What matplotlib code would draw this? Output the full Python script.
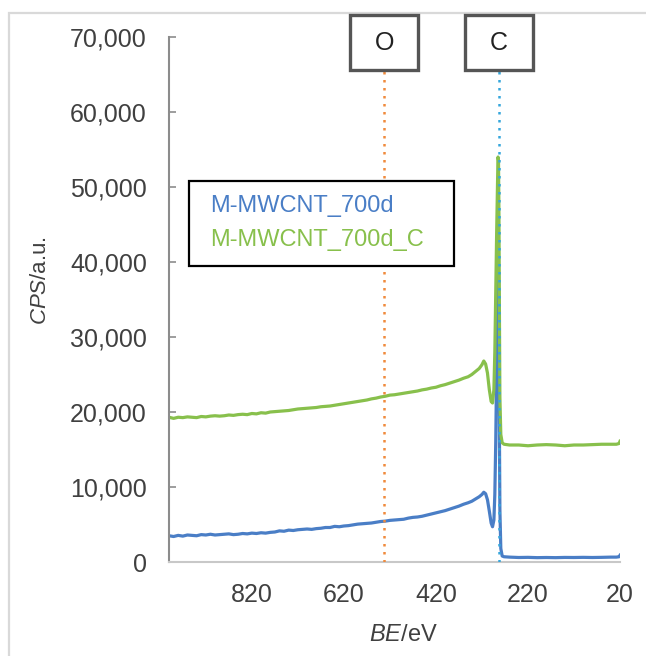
import matplotlib
matplotlib.use('Agg')
import matplotlib.pyplot as plt
from matplotlib.patches import Rectangle
from matplotlib.ticker import MultipleLocator, StrMethodFormatter

plt.rcParams['font.family'] = ['Liberation Sans', 'DejaVu Sans']
plt.rcParams['mathtext.fontset'] = 'custom'
plt.rcParams['mathtext.rm'] = 'Liberation Sans'
plt.rcParams['mathtext.it'] = 'Liberation Sans:italic'

# binding energy grid (eV), shared by both spectra
be = [1000, 990, 980, 970, 960, 950, 940, 930, 920, 910, 900, 890, 880, 870, 860, 850,
      840, 830, 820, 810, 800, 790, 780, 770, 760, 750, 740, 730, 720, 710, 700,
      690, 680, 670, 660, 650, 640, 630, 620, 610, 600, 590, 580, 570, 560, 550,
      540, 530, 520, 510, 500, 490, 480, 470, 460, 450, 440, 430, 420, 410, 400,
      390, 380, 370, 360, 350,
      342, 334, 326, 320, 316, 312, 308, 304, 300, 297, 294, 292, 290, 288, 286, 285,
      284, 283, 282, 281, 279, 276, 272,
      260, 240, 220, 200, 180, 160, 140, 120, 100, 80, 60, 40, 28, 22, 20]

# counts per second
cps_700d = [3500, 3400, 3550, 3450, 3600, 3550, 3500, 3650, 3600, 3700, 3600, 3650, 3700, 3750, 3650, 3700,
            3800, 3750, 3850, 3800, 3900, 3850, 3950, 4000, 4150, 4100, 4250, 4200, 4300, 4350, 4400,
            4350, 4450, 4500, 4600, 4600, 4750, 4700, 4800, 4850, 4950, 5050, 5100, 5150, 5200, 5300,
            5400, 5450, 5550, 5600, 5650, 5700, 5850, 5950, 6000, 6100, 6250, 6400, 6550, 6700, 6850,
            7050, 7250, 7450, 7700, 7900,
            8100, 8400, 8700, 9000, 9300, 9100, 8300, 6800, 5200, 4700, 5600, 9000, 16000, 26000, 35000, 39000,
            38500, 30000, 17000, 7000, 1800, 800, 700,
            650, 600, 620, 580, 600, 580, 610, 600, 620, 600, 620, 650, 650, 700, 900]

cps_700d_c = [19300, 19150, 19300, 19250, 19350, 19300, 19250, 19400, 19350, 19450, 19500, 19450, 19500, 19600, 19550, 19650,
              19700, 19650, 19800, 19750, 19900, 19850, 20000, 20050, 20100, 20150, 20200, 20300, 20400, 20450, 20500,
              20550, 20600, 20700, 20750, 20800, 20900, 21000, 21100, 21200, 21300, 21400, 21500, 21600, 21750, 21850,
              22000, 22100, 22250, 22300, 22400, 22500, 22600, 22700, 22800, 22950, 23050, 23200, 23300, 23500, 23650,
              23850, 24050, 24250, 24500, 24700,
              25000, 25400, 25800, 26300, 26800, 26400, 25200, 23000, 21400, 21200, 23000, 28000, 36000, 44000, 51000, 54000,
              53500, 46000, 33000, 22000, 17000, 15900, 15700,
              15600, 15600, 15500, 15600, 15650, 15600, 15500, 15600, 15600, 15650, 15700, 15700, 15700, 15800, 16100]

series_names = ['M-MWCNT_700d', 'M-MWCNT_700d_C']
series_colors = ['#4a7ec6', '#88c04c']

# element markers: label, binding energy, colour
peak_labels = ['O', 'C']
peak_be = [532, 284]
peak_colors = ['#f08a3c', '#35a6dc']

W, H = 646, 656
fig = plt.figure(figsize=(W / 100, H / 100), dpi=100)


def fx(px):
    return px / W


def fy(py):
    return 1 - py / H


ax = fig.add_axes([fx(169), fy(562), (620 - 169) / W, (562 - 37) / H])

ax.plot(be, cps_700d, color=series_colors[0], lw=2.3, zorder=2)
ax.plot(be, cps_700d_c, color=series_colors[1], lw=2.3, zorder=2)

ax.set_xlim(1000, 20)
ax.set_ylim(0, 70000)
ax.xaxis.set_major_locator(MultipleLocator(200, offset=20))
ax.yaxis.set_major_locator(MultipleLocator(10000))
ax.yaxis.set_major_formatter(StrMethodFormatter('{x:,.0f}'))

for side in ['top', 'right']:
    ax.spines[side].set_visible(False)
ax.spines['left'].set_color('#8c8c8c')
ax.spines['left'].set_linewidth(1.5)
ax.spines['bottom'].set_color('#c8c8c8')
ax.spines['bottom'].set_linewidth(1.5)

ax.tick_params(axis='y', direction='in', length=5, width=1.2, color='#8c8c8c',
               pad=16, labelsize=18, labelcolor='#404040')
ax.tick_params(axis='x', length=0, pad=15, labelsize=18, labelcolor='#404040')

# dotted guide lines and the label boxes above them
box_top, box_bot = 15, 70
for lab, pos, col in zip(peak_labels, peak_be, peak_colors):
    ax.axvline(pos, ymin=0, ymax=(562 - box_bot) / (562 - 37), color=col, lw=1.8,
               linestyle=(0, (1, 2.2)), zorder=3)
    xpix = ax.transData.transform((pos, 0))[0]
    fig.patches.append(Rectangle((fx(xpix - 34), fy(box_bot)), 68 / W, (box_bot - box_top) / H,
                                 transform=fig.transFigure, facecolor='white',
                                 edgecolor='#555555', lw=2.4, zorder=5))
    fig.text(fx(xpix), fy((box_top + box_bot) / 2), lab, ha='center', va='center',
             fontsize=18, color='#222222', zorder=6)

# legend box
fig.patches.append(Rectangle((fx(189), fy(266)), (454 - 189) / W, (266 - 181) / H,
                             transform=fig.transFigure, facecolor='white',
                             edgecolor='black', lw=1.6, zorder=4))
for i, (name, col) in enumerate(zip(series_names, series_colors)):
    fig.text(fx(210), fy(206 + 34 * i), name, ha='left', va='center',
             fontsize=17, color=col, zorder=6)

fig.text(fx(403), fy(635), r'$\it{BE}$/eV', ha='center', va='center',
         fontsize=17, color='#404040')
fig.text(fx(40), fy(281), r'$\it{CPS}$/a.u.', ha='center', va='center',
         rotation=90, fontsize=16, color='#404040')

# light outer frame
fig.patches.append(Rectangle((fx(9), -0.05), 1.1, fy(13) + 0.05, transform=fig.transFigure,
                             fill=False, edgecolor='#d9d9d9', lw=1.6, zorder=1))

fig.savefig('out.png', dpi=100)
